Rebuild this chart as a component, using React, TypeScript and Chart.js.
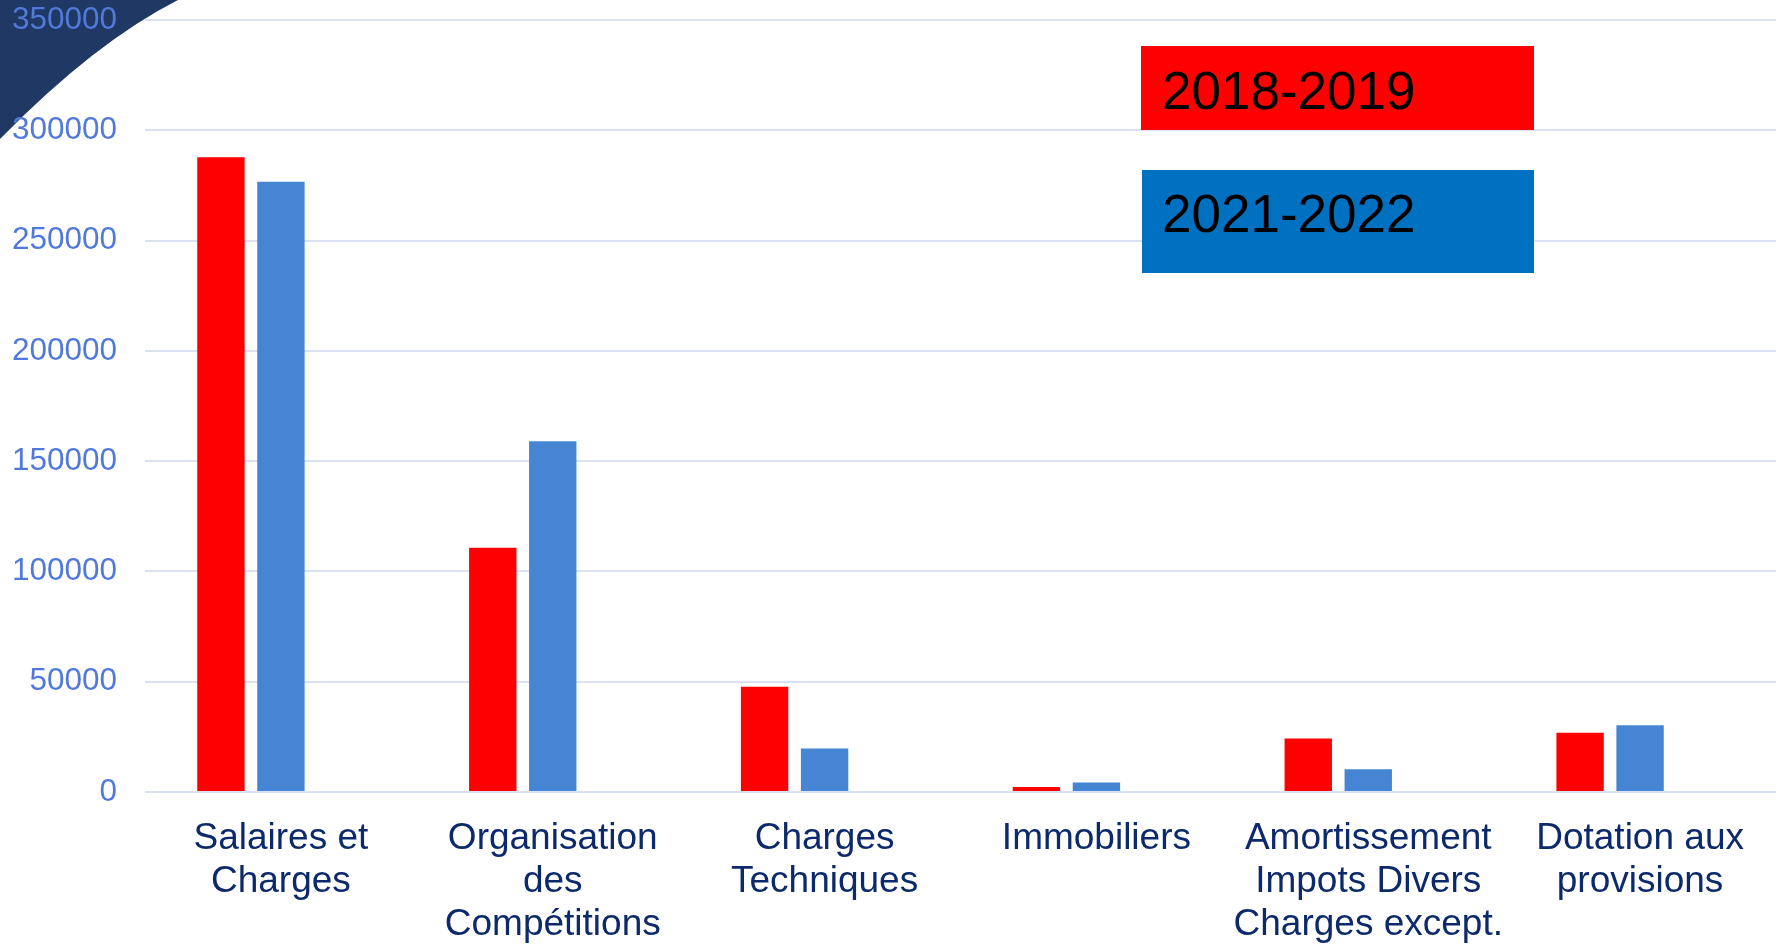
import React, { useEffect, useRef } from "react";
import { Chart, registerables } from "chart.js";

Chart.register(...registerables);

const categories: string[][] = [
  ["Salaires et", "Charges"],
  ["Organisation", "des", "Compétitions"],
  ["Charges", "Techniques"],
  ["Immobiliers"],
  ["Amortissement", "Impots Divers", "Charges except."],
  ["Dotation aux", "provisions"],
];

const series2018 = [287800, 110700, 47700, 2300, 24200, 26900];
const series2021 = [276700, 159000, 19700, 4300, 10300, 30300];
const emptySeries = [null, null, null, null, null, null];

const seriesLabels = ["2018-2019", "2021-2022"];
const barColors = ["#ff0000", "#4685d3"];
const legendColors = ["#ff0000", "#0070c0"];

const yTicks = { min: 0, max: 350000, step: 50000 };

const FONT = "'Liberation Sans', Arial, sans-serif";

const cornerPlugin = {
  id: "corner",
  beforeDraw(chart: any) {
    const ctx = chart.ctx;
    ctx.save();
    ctx.fillStyle = "#ffffff";
    ctx.fillRect(0, 0, chart.width, chart.height);
    ctx.fillStyle = "#1f3864";
    ctx.beginPath();
    ctx.moveTo(0, 0);
    ctx.lineTo(178, 0);
    ctx.quadraticCurveTo(95, 42, 0, 139);
    ctx.closePath();
    ctx.fill();
    ctx.restore();
  },
};

const boxLegendPlugin = {
  id: "boxLegend",
  afterDraw(chart: any) {
    const ctx = chart.ctx;
    const boxes = [
      { x: 1141, y: 46, w: 393, h: 84, tx: 1162, ty: 109 },
      { x: 1142, y: 170, w: 392, h: 103, tx: 1162, ty: 232 },
    ];
    ctx.save();
    chart.data.datasets.slice(0, 2).forEach((ds: any, i: number) => {
      const b = boxes[i];
      ctx.fillStyle = legendColors[i];
      ctx.fillRect(b.x, b.y, b.w, b.h);
      ctx.fillStyle = "#000000";
      ctx.font = `53px ${FONT}`;
      ctx.textAlign = "left";
      ctx.textBaseline = "alphabetic";
      ctx.fillText(ds.label, b.tx, b.ty);
    });
    ctx.restore();
  },
};

export default function App() {
  const canvasRef = useRef<HTMLCanvasElement | null>(null);

  useEffect(() => {
    if (!canvasRef.current) return;
    const chart = new Chart(canvasRef.current, {
      type: "bar",
      data: {
        labels: categories,
        datasets: [
          {
            label: seriesLabels[0],
            data: series2018,
            backgroundColor: barColors[0],
            borderWidth: 0,
          },
          {
            label: seriesLabels[1],
            data: series2021,
            backgroundColor: barColors[1],
            borderWidth: 0,
          },
          {
            label: "",
            data: emptySeries as any,
            backgroundColor: "rgba(0,0,0,0)",
            borderWidth: 0,
          },
        ],
      },
      options: {
        animation: false,
        responsive: true,
        maintainAspectRatio: false,
        datasets: {
          bar: {
            categoryPercentage: 0.662,
            barPercentage: 0.79,
          },
        },
        layout: { padding: { top: 20, right: 9, left: 0, bottom: 0 } },
        plugins: {
          legend: { display: false },
          tooltip: { enabled: false },
        },
        scales: {
          x: {
            grid: { display: false },
            border: { display: false },
            ticks: {
              color: "#0c2a6b",
              font: { family: FONT, size: 37, lineHeight: 1.17 },
              padding: 17,
              maxRotation: 0,
              minRotation: 0,
              autoSkip: false,
            },
            afterFit(scale: any) {
              scale.height = 152;
              scale.paddingLeft = 0;
              scale.paddingRight = 0;
            },
          },
          y: {
            min: yTicks.min,
            max: yTicks.max,
            border: { display: false },
            grid: { color: "#d9e1f3", lineWidth: 2, drawTicks: false },
            ticks: {
              stepSize: yTicks.step,
              color: "#5179d9",
              font: { family: FONT, size: 31.5 },
              padding: 28,
              callback: (v: any) => String(v),
            },
            afterFit(scale: any) {
              scale.width = 145;
              scale.paddingTop = 0;
              scale.paddingBottom = 0;
            },
          },
        },
      },
      plugins: [cornerPlugin, boxLegendPlugin],
    });
    return () => chart.destroy();
  }, []);

  return (
    <div
      style={{
        position: "fixed",
        left: 0,
        top: 0,
        width: 1785,
        height: 944,
        background: "#ffffff",
      }}
    >
      <canvas ref={canvasRef} />
    </div>
  );
}
